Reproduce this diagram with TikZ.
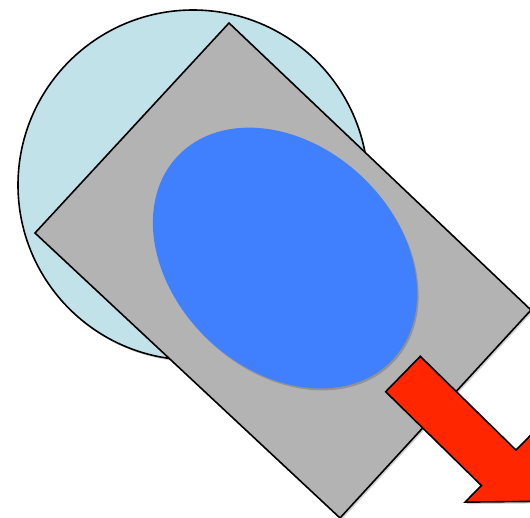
\documentclass[tikz,border=0pt]{standalone}
\usetikzlibrary{shapes.geometric,shadows}
\definecolor{lightcircle}{RGB}{194,226,234}
\definecolor{plategray}{RGB}{179,179,179}
\definecolor{lensblue}{RGB}{64,128,255}
\definecolor{arrowred}{RGB}{255,38,0}
\tikzset{
  softshadow/.style={drop shadow={shadow xshift=1.5pt,shadow yshift=-2pt,opacity=0.18,fill=black}},
  outline/.style={draw=black,line width=1.6pt,line join=miter},
}
\begin{document}
\begin{tikzpicture}[x=1pt,y=-1pt]
\useasboundingbox (0,0) rectangle (530,517);
\clip (0,0) rectangle (530,517);
\fill[white] (0,0) rectangle (530,517);
% light blue circle
\path[outline,fill=lightcircle,softshadow] (193,185) circle[radius=175];
% gray rotated rectangle
\coordinate (rt) at (229,23);
\coordinate (rr) at (531,310);
\coordinate (rb) at (340,518);
\coordinate (rl) at (35,233);
\path[outline,fill=plategray,softshadow] (rt) -- (rr) -- (rb) -- (rl) -- cycle;
% blue ellipse
\node[ellipse,fill=lensblue,draw=none,inner sep=0pt,minimum width=296pt,minimum height=224pt,rotate=-43.6,softshadow] (lens) at (285,258) {};
% red arrow
\path[outline,fill=arrowred,softshadow]
  (420.3,356.3) -- (516,450.1) -- (532.3,433.5) -- (533,501.4) -- (465.1,502.1) -- (481.4,485.5) -- (385.7,391.7) -- cycle;
\end{tikzpicture}
\end{document}
